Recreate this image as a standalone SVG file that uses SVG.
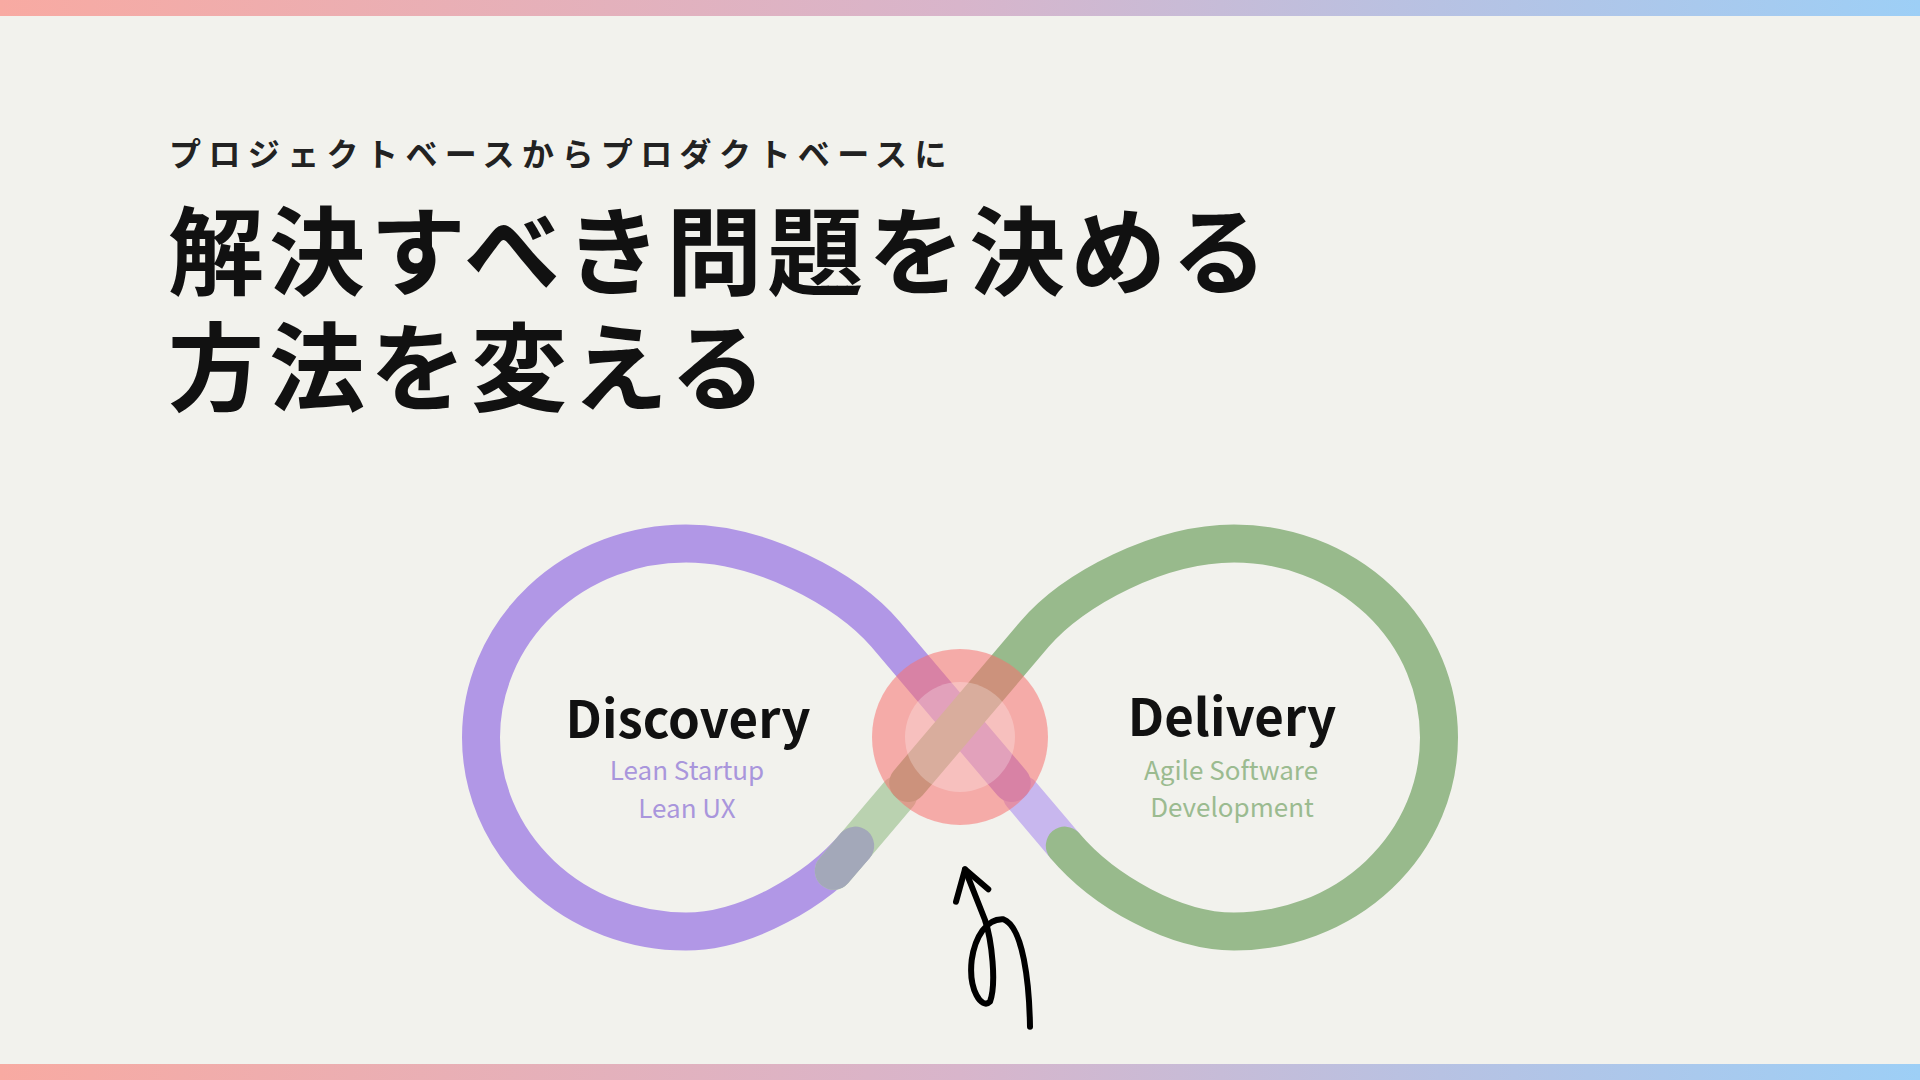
<svg xmlns="http://www.w3.org/2000/svg" width="1920" height="1080" viewBox="0 0 1920 1080">
  <defs>
    <linearGradient id="bar" x1="0" y1="0" x2="1" y2="0">
      <stop offset="0" stop-color="#f8aaa2"/>
      <stop offset="0.5" stop-color="#d8b5cb"/>
      <stop offset="0.75" stop-color="#b7c2e3"/>
      <stop offset="1" stop-color="#9dcff6"/>
    </linearGradient>
    <style>
      .band { fill: none; stroke-width: 38; stroke-linecap: round; stroke-linejoin: round; }
      .jp { font-family: "Noto Sans CJK JP", "Noto Sans", sans-serif; }
      .head { font-family: "Noto Sans CJK JP", "Noto Sans", sans-serif; font-weight: 700; font-size: 51px; fill: #111; text-anchor: middle; }
      .sub { font-family: "Noto Sans CJK JP", "Noto Sans", sans-serif; font-weight: 400; font-size: 26px; text-anchor: middle; }
    </style>
  </defs>

  <rect x="0" y="0" width="1920" height="1080" fill="#f2f2ed"/>
  <rect x="0" y="0" width="1920" height="16" fill="url(#bar)"/>
  <rect x="0" y="1064" width="1920" height="16" fill="url(#bar)"/>

  <g id="title">
    <text class="jp" x="169" y="166" font-size="32" font-weight="700" letter-spacing="7.4" fill="#222">プロジェクトベースからプロダクトベースに</text>
    <text class="jp" x="168" y="287" font-size="96" font-weight="700" letter-spacing="5" fill="#111">解決すべき問題を決める</text>
    <text class="jp" x="168" y="403" font-size="96" font-weight="700" letter-spacing="5" fill="#111">方法を変える</text>
  </g>

  <g id="connectors">
    <!-- light start of purple loop -->
    <path class="band" stroke="#c8b7ee" d="M1064.8,845.6 L1021.5,794.5"/>
    <!-- purple loop -->
    <path class="band" stroke="#b197e6" d="M1011.8,783 L885.6,634.3 C846.8,588.5 760,543.5 686,543.5 A205,194 0 0 0 481,737.5 A205,194 0 0 0 686,931.5 C745,931.5 816.4,891.4 855.2,845.6"/>
    <!-- light start of green loop -->
    <path class="band" stroke="#bad2b0" d="M833.8,870.8 L898.5,794.5"/>
    <!-- overlap of purple end and green start -->
    <path class="band" stroke="#a3a8b9" d="M833.8,870.8 L855.2,845.6"/>
    <!-- green loop -->
    <path class="band" stroke="#98ba8c" d="M908.2,783 L1034.4,634.3 C1073.2,588.5 1160,543.5 1234,543.5 A205,194 0 0 1 1439,737.5 A205,194 0 0 1 1234,931.5 C1175,931.5 1103.6,891.4 1064.8,845.6"/>
  </g>

  <g id="hub">
    <circle cx="960" cy="737" r="88" fill="#f8716f" fill-opacity="0.55"/>
    <circle cx="960" cy="737" r="55" fill="#ffffff" fill-opacity="0.25"/>
  </g>

  <g id="discovery">
    <text class="head" x="688" y="738">Discovery</text>
    <text class="sub" x="687" y="780" fill="#a996dc">Lean Startup</text>
    <text class="sub" x="687" y="818" fill="#a996dc">Lean UX</text>
  </g>

  <g id="delivery">
    <text class="head" x="1232" y="736">Delivery</text>
    <text class="sub" x="1231" y="780" fill="#9bbb90">Agile Software</text>
    <text class="sub" x="1232" y="817" fill="#9bbb90">Development</text>
  </g>

  <g id="doodle" fill="none" stroke="#000" stroke-width="6" stroke-linecap="round" stroke-linejoin="round">
    <path d="M965,869.3 L985,920 C991.7,940 996.7,983.3 990,1001.7 C981.7,1010 968.3,990 971.7,960 C975,936.7 986.7,918.3 1003.3,919.3 C1023.3,926.7 1029.3,983.3 1030,1026.7"/>
    <path d="M956,901.7 L965,869.3 L988.3,889.3"/>
  </g>
</svg>
